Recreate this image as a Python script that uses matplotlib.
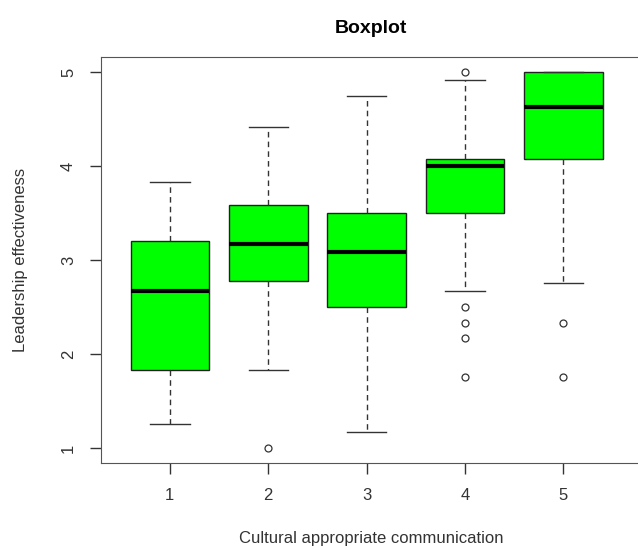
import matplotlib.pyplot as plt

plt.rcParams['font.family'] = ['Liberation Sans', 'DejaVu Sans']

groups = [1, 2, 3, 4, 5]
whislo = [1.25, 1.83, 1.17, 2.67, 2.75]
q1 = [1.83, 2.78, 2.50, 3.50, 4.08]
med = [2.67, 3.17, 3.08, 4.00, 4.63]
q3 = [3.20, 3.58, 3.50, 4.08, 5.00]
whishi = [3.83, 4.42, 4.75, 4.92, 5.00]
fliers = [[], [1.0], [], [5.0, 2.5, 2.33, 2.17, 1.75], [2.33, 1.75]]

stats = []
for i in range(len(groups)):
    stats.append(dict(label=str(groups[i]), whislo=whislo[i], q1=q1[i],
                      med=med[i], q3=q3[i], whishi=whishi[i], fliers=fliers[i]))

fig = plt.figure(figsize=(6.38, 5.5), dpi=100)
# plot region runs past the right edge of the picture (cropped R device)
ax = fig.add_axes([101 / 638, 87 / 550, 540 / 638, 406 / 550])

ax.bxp(stats, positions=groups, widths=0.8, patch_artist=True, capwidths=0.4,
       boxprops=dict(facecolor='#00ff00', edgecolor='#222222', linewidth=1),
       medianprops=dict(color='black', linewidth=3),
       whiskerprops=dict(color='#333333', linestyle=(0, (4, 3)), linewidth=1),
       capprops=dict(color='#333333', linewidth=1),
       flierprops=dict(marker='o', markerfacecolor='none', markeredgecolor='#333333',
                       markersize=5, markeredgewidth=0.9))

ax.set_xlim(0.3, 5.79)
ax.set_ylim(0.84, 5.16)
ax.set_xticks(groups)
ax.set_xticklabels([str(g) for g in groups])
ax.set_yticks([1, 2, 3, 4, 5])
ax.set_yticklabels(['1', '2', '3', '4', '5'], rotation=90, va='center')
ax.tick_params(axis='both', length=8, width=1, color='#333333', labelsize=12,
               labelcolor='#333333', pad=10)
for s in ax.spines.values():
    s.set_color('#555555')
ax.spines['right'].set_visible(False)

ax.set_title('Boxplot', fontsize=14, fontweight='bold', pad=17)
ax.set_xlabel('Cultural appropriate communication', fontsize=12, color='#333333', labelpad=20)
ax.set_ylabel('Leadership effectiveness', fontsize=12, color='#333333', labelpad=24)

fig.savefig('out.png', dpi=100)
